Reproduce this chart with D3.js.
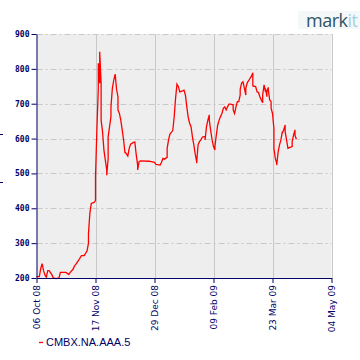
<!DOCTYPE html>
<html>
<head>
<script src="https://cdn.jsdelivr.net/npm/d3@7"></script>
<style>
  body { margin: 0; background: #fff; }
  .grid-h line { stroke: #c8c8c8; stroke-dasharray: 6,3,2,3; }
  .grid-v line { stroke: #c8c8c8; }
  .axis path, .axis line { stroke: #000066; }
  .axis text { fill: #000066; }
</style>
</head>
<body>
<div id="chart"></div>
<script>
'use strict'
// CMBX.NA.AAA.5 spread
let dates = [
  "10/06/08","10/08/08","10/09/08","10/10/08","10/11/08","10/12/08","10/13/08","10/14/08","10/15/08","10/17/08",
  "10/18/08","10/20/08","10/22/08","10/23/08","10/27/08","10/29/08","10/30/08","11/01/08","11/02/08","11/03/08",
  "11/05/08","11/07/08","11/09/08","11/11/08","11/12/08","11/12/08","11/13/08","11/14/08","11/16/08","11/17/08",
  "11/17/08","11/18/08","11/19/08","11/19/08","11/20/08","11/20/08","11/21/08","11/21/08","11/22/08","11/23/08",
  "11/24/08","11/25/08","11/25/08","11/26/08","11/26/08","11/27/08","11/28/08","11/28/08","11/29/08","11/30/08",
  "12/01/08","12/02/08","12/03/08","12/03/08","12/04/08","12/05/08","12/06/08","12/07/08","12/08/08","12/08/08",
  "12/09/08","12/10/08","12/11/08","12/12/08","12/14/08","12/15/08","12/16/08","12/17/08","12/17/08","12/18/08",
  "12/19/08","12/25/08","12/29/08","12/30/08","01/02/09","01/03/09","01/04/09","01/05/09","01/07/09","01/07/09",
  "01/08/09","01/09/09","01/11/09","01/12/09","01/13/09","01/14/09","01/15/09","01/16/09","01/18/09","01/19/09",
  "01/20/09","01/21/09","01/22/09","01/23/09","01/24/09","01/25/09","01/26/09","01/27/09","01/28/09","01/28/09",
  "01/29/09","01/30/09","01/31/09","02/01/09","02/03/09","02/03/09","02/04/09","02/05/09","02/06/09","02/06/09",
  "02/07/09","02/08/09","02/09/09","02/10/09","02/10/09","02/11/09","02/12/09","02/13/09","02/14/09","02/15/09",
  "02/16/09","02/17/09","02/18/09","02/19/09","02/20/09","02/21/09","02/23/09","02/23/09","02/24/09","02/25/09",
  "02/26/09","02/27/09","02/28/09","02/28/09","03/01/09","03/02/09","03/03/09","03/04/09","03/04/09","03/05/09",
  "03/06/09","03/07/09","03/08/09","03/09/09","03/09/09","03/11/09","03/12/09","03/13/09","03/14/09","03/15/09",
  "03/16/09","03/16/09","03/17/09","03/18/09","03/18/09","03/19/09","03/19/09","03/20/09","03/20/09","03/21/09",
  "03/22/09","03/22/09","03/23/09","03/24/09","03/24/09","03/25/09","03/26/09","03/26/09","03/27/09","03/28/09",
  "03/29/09","03/30/09","03/30/09","03/31/09","04/01/09","04/01/09","04/02/09","04/03/09","04/04/09","04/06/09",
  "04/06/09","04/07/09","04/08/09","04/08/09","04/09/09"
]
let values = [
  204,204,227,241,221,209,202,221,221,209,
  200,198,200,216,216,210,216,225,234,239,
  251,264,264,278,300,328,386,414,417,422,
  491,629,744,816,759,849,759,653,620,567,
  538,510,495,543,605,634,663,691,744,768,
  785,741,720,682,672,653,625,596,558,562,
  556,550,572,584,589,590,553,524,510,534,
  536,535,532,526,524,532,543,541,546,572,
  596,613,623,661,716,756,749,734,737,739,
  725,691,661,644,634,605,582,555,534,529,
  582,591,596,604,607,596,634,653,668,653,
  623,596,577,567,577,610,639,653,663,672,
  687,691,682,691,699,699,697,682,672,691,
  706,706,725,741,759,763,744,725,744,760,
  766,773,779,789,751,749,734,732,720,711,
  703,725,754,734,744,720,734,747,741,711,
  706,687,672,629,572,543,529,524,562,582,
  596,620,615,625,639,620,596,572,574,577,
  591,610,625,610,598
]
let xTicks = ["10/06/08","11/17/08","12/29/08","02/09/09","03/23/09","05/04/09"]
let yTicks = [200,300,400,500,600,700,800,900]
let seriesName = "CMBX.NA.AAA.5"

let parse = d3.timeParse("%m/%d/%y")
let data = dates.map(function(d, i){ return {date: parse(d), value: values[i]} })

let w = 360, h = 360
let margins = {top: 34, bottom: 82, left: 36.5, right: 28.5}

let svg = d3.select("#chart").append("svg")
  .attr("width", w).attr("height", h)

let x = d3.scaleTime()
  .domain([parse(xTicks[0]), parse(xTicks[xTicks.length - 1])])
  .range([margins.left, w - margins.right])
let y = d3.scaleLinear()
  .domain([200, 900])
  .range([h - margins.bottom, margins.top])

// plot background
svg.append("rect")
  .attr("x", x.range()[0]).attr("y", y.range()[1])
  .attr("width", x.range()[1] - x.range()[0])
  .attr("height", y.range()[0] - y.range()[1])
  .attr("fill", "#eeeeee")

// grid
svg.append("g").attr("class", "grid-v")
  .selectAll("line").data(xTicks.slice(1)).enter().append("line")
  .attr("x1", function(d){ return Math.round(x(parse(d))) + 0.5 })
  .attr("x2", function(d){ return Math.round(x(parse(d))) + 0.5 })
  .attr("y1", y.range()[1]).attr("y2", y.range()[0])

svg.append("g").attr("class", "grid-h")
  .selectAll("line").data(yTicks.slice(1)).enter().append("line")
  .attr("x1", x.range()[0]).attr("x2", x.range()[1])
  .attr("y1", function(d){ return Math.round(y(d)) + 0.5 })
  .attr("y2", function(d){ return Math.round(y(d)) + 0.5 })

// series
let line = d3.line()
  .x(function(d){ return x(d.date) })
  .y(function(d){ return y(d.value) })

svg.append("path").datum(data)
  .attr("d", line)
  .attr("fill", "none")
  .attr("stroke", "#ff0000")
  .attr("stroke-width", 1.3)

// axes
let yAxis = svg.append("g").attr("class", "axis")
  .attr("transform", "translate(" + x.range()[0] + ",0)")
  .call(d3.axisLeft(y).tickValues(yTicks).tickSize(5).tickSizeOuter(0).tickPadding(2))
yAxis.selectAll("text")
  .style("font-family", "'DejaVu Sans Mono', monospace")
  .style("font-weight", "bold")
  .style("font-size", "8px")

let xAxis = svg.append("g").attr("class", "axis")
  .attr("transform", "translate(0," + y.range()[0] + ")")
  .call(d3.axisBottom(x).tickValues(xTicks.map(parse))
    .tickFormat(d3.timeFormat("%d %b %y")).tickSize(5).tickSizeOuter(0))
xAxis.selectAll("text")
  .attr("transform", "rotate(-90)")
  .attr("text-anchor", "end")
  .attr("x", -7).attr("y", 0).attr("dy", "0.35em")
  .style("font-family", "'DejaVu Sans', Verdana, sans-serif")
  .style("font-size", "9px")

// cut-off axis title remnants at left edge
svg.append("g").selectAll("line").data([134, 182]).enter().append("line")
  .attr("x1", 0).attr("x2", 3)
  .attr("y1", function(d){ return d + 0.5 }).attr("y2", function(d){ return d + 0.5 })
  .attr("stroke", "#000066")

// legend
let legend = svg.append("g").attr("transform", "translate(39,342)")
legend.append("line").attr("x1", 0).attr("x2", 4).attr("y1", 0.5).attr("y2", 0.5)
  .attr("stroke", "#ff0000").attr("stroke-width", 1.3)
legend.append("text").attr("x", 7).attr("y", 4)
  .style("font-family", "'Liberation Sans', Arial, sans-serif")
  .style("font-size", "11px")
  .attr("fill", "#000066")
  .text(seriesName)

// logo
let logo = svg.append("g")
logo.append("rect").attr("x", 298).attr("y", 11).attr("width", 62).attr("height", 18)
  .attr("fill", "#f5f8f8")
let logoText = logo.append("text").attr("x", 306).attr("y", 27)
  .style("font-family", "'Open Sans', sans-serif")
  .style("font-size", "18px")
  .style("letter-spacing", "-0.5px")
logoText.append("tspan").attr("fill", "#2f5364").text("mark")
logoText.append("tspan").attr("fill", "#a9d0e2").text("it")
</script>
</body>
</html>
